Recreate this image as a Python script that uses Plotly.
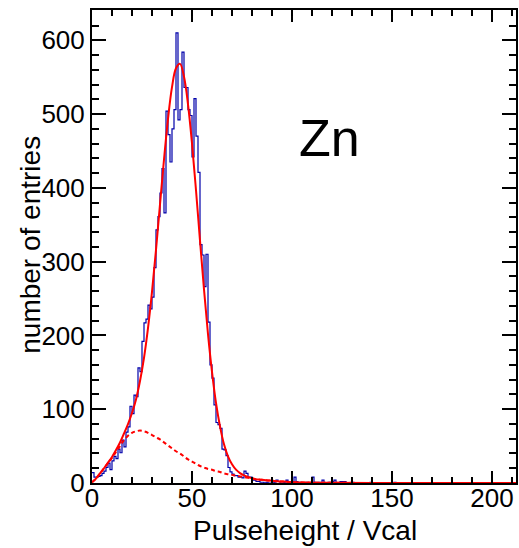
import plotly.graph_objects as go

# ---- data ----
bin_width = 1
core_counts = [14, 8, 8, 9, 10, 13, 16, 21, 27, 18,
               30, 36, 33, 46, 41, 58, 49, 69, 76, 104,
               94, 119, 117, 156, 151, 192, 217, 222, 241, 236,
               252, 292, 343, 361, 393, 426, 366, 504, 472, 435,
               480, 506, 610, 492, 506, 584, 536, 536, 506, 498,
               442, 521, 470, 421, 323, 309, 266, 310, 218, 160,
               142, 106, 82, 79, 74, 46, 45, 37, 21, 15,
               12, 10, 10, 8, 8, 7, 16, 13, 8, 8,
               4, 4, 2, 2, 1, 1, 0, 1, 0, 0,
               0, 1, 4, 2, 0, 0, 1, 4, 2, 0]
tail_counts = [2, 8, 2, 0, 1, 0, 0, 1, 0, 0,
               8, 1, 0, 1, 0, 4, 0, 0, 1, 0,
               2, 4, 0, 0, 2, 2, 2, 0, 0, 0,
               1, 0, 0, 0, 0, 0, 0, 0, 0, 1,
               0, 0, 0, 0, 0, 0, 0, 0, 0, 0,
               0, 1, 0, 0, 0, 0, 0, 0, 0, 0,
               0, 0, 0, 0, 0, 0, 0, 0, 0, 0,
               0, 0, 0, 0, 0, 0, 0, 0, 0, 0,
               0, 0, 0, 0, 0, 0, 0, 0, 0, 0,
               0, 0, 0, 0, 0, 0, 0, 0, 0, 0,
               0, 0, 0, 0, 0, 0, 0, 0, 0, 0,
               0, 0]

fit_x = [0, 2, 4, 6, 8, 10, 12, 14, 16, 18, 20, 22, 24, 26, 28, 30,
         32, 34, 36, 38, 40, 42, 44, 46, 48, 50, 52, 54, 56, 58, 60,
         62, 64, 66, 68, 70, 72, 74, 76, 78, 80, 82, 84, 86, 88, 90,
         92, 94, 96, 98, 100, 105, 110, 120, 140, 170, 212]
fit_total = [1, 6, 13, 20, 27.6, 35.3, 44.6, 54.9, 67.1, 79.9, 94.8, 113.3,
             138.2, 169.7, 210, 258.9, 315.9, 377.6, 438.4, 493.4, 536.4,
             562, 568, 550.7, 513.2, 460.3, 396.7, 328.5, 262.4, 201.8,
             150.7, 108.5, 76.7, 52.5, 36.2, 25.3, 18.1, 13.4, 10.3, 8.1,
             6.5, 5, 4.5, 4, 3.5, 3, 2.5, 2, 2, 1.5, 1, 0.7, 0.5, 0.3,
             0.1, 0.05, 0]
fit_background = [1, 6, 13, 20, 27, 34, 42, 50, 58, 64, 68, 70, 71, 70, 68,
                  65, 62, 59, 55, 51, 47, 43, 40, 36, 32, 29, 26, 23, 21,
                  19, 18, 16, 15, 13, 12, 11, 10, 9, 8, 7, 6, 5, 4.5, 4,
                  3.5, 3, 2.5, 2, 2, 1.5, 1, 0.7, 0.5, 0.3, 0.1, 0.05, 0]

x_ticks = [0, 50, 100, 150, 200]
y_ticks = [0, 100, 200, 300, 400, 500, 600]
x_title = "Pulseheight / Vcal"
y_title = "number of entries"
label = "Zn"

# ---- build histogram outline ----
counts = core_counts + tail_counts
edges = [i * bin_width for i in range(len(counts) + 1)]
step_y = counts + [counts[-1]]

FONT = "Liberation Sans, Arial, Helvetica, sans-serif"

fig = go.Figure()
fig.add_trace(go.Scatter(x=edges, y=step_y, mode="lines", line_shape="hv",
                         line=dict(color="rgb(0,0,170)", width=1.2),
                         hoverinfo="skip", showlegend=False))
fig.add_trace(go.Scatter(x=fit_x, y=fit_background, mode="lines",
                         line_shape="spline",
                         line=dict(color="rgb(255,0,0)", width=2, dash="4px,3px"),
                         hoverinfo="skip", showlegend=False))
fig.add_trace(go.Scatter(x=fit_x, y=fit_total, mode="lines",
                         line_shape="spline",
                         line=dict(color="rgb(255,0,0)", width=2),
                         hoverinfo="skip", showlegend=False))

fig.add_annotation(x=118.6, y=467, xref="x", yref="y", text=label,
                   showarrow=False, xanchor="center", yanchor="middle",
                   font=dict(family=FONT, size=52, color="black"))

# axis titles
fig.add_annotation(x=0.502, y=-0.1, xref="paper", yref="paper", text=x_title,
                   showarrow=False, xanchor="center", yanchor="middle",
                   font=dict(family=FONT, size=28, color="black"))
fig.add_annotation(x=-0.147, y=0.503, xref="paper", yref="paper", text=y_title,
                   showarrow=False, xanchor="center", yanchor="middle",
                   textangle=-90,
                   font=dict(family=FONT, size=28, color="black"))

axis_common = dict(showline=True, linecolor="black", linewidth=2,
                   mirror="ticks", ticks="inside", tickcolor="black",
                   tickwidth=1.5, showgrid=False, zeroline=False,
                   automargin=False,
                   tickfont=dict(family=FONT, size=26, color="black"))

fig.update_xaxes(range=[0, 212], tickvals=x_ticks, ticklen=12,
                 minor=dict(ticks="inside", dtick=10, ticklen=6,
                            tickcolor="black", tickwidth=1.5, showgrid=False),
                 ticklabelstandoff=-9,
                 **axis_common)
fig.update_yaxes(range=[0, 641], tickvals=y_ticks, ticklen=14,
                 minor=dict(ticks="inside", dtick=20, ticklen=7,
                            tickcolor="black", tickwidth=1.5, showgrid=False),
                 ticklabelstandoff=0,
                 **axis_common)

fig.update_layout(width=519, height=548,
                  margin=dict(l=92, r=3, t=10, b=65, pad=0),
                  paper_bgcolor="white", plot_bgcolor="white",
                  showlegend=False)

fig.write_html("out.html")
